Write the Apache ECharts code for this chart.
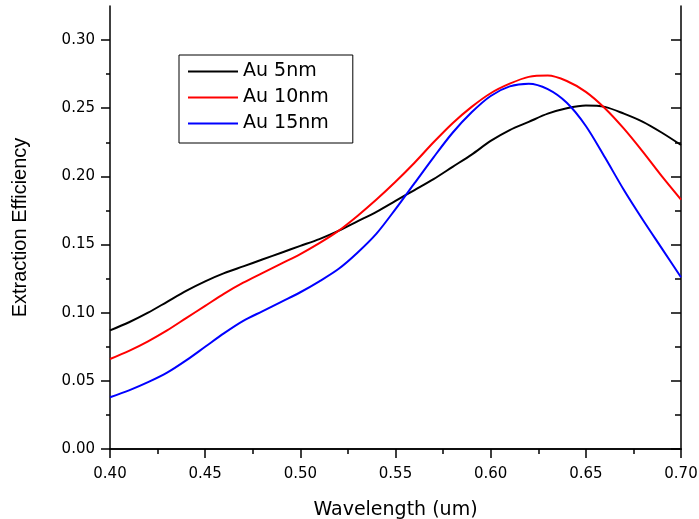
<!DOCTYPE html>
<html><head><meta charset="utf-8">
<script src="https://cdn.jsdelivr.net/npm/echarts@6/dist/echarts.min.js"></script>
<style>html,body{margin:0;padding:0;background:#fff}#c{width:699px;height:519px}</style>
</head><body><div id="c"></div>
<script>
const wavelengths = [0.40,0.41,0.42,0.43,0.44,0.45,0.46,0.47,0.48,0.49,0.50,0.51,0.52,0.53,0.54,0.55,0.56,0.57,0.58,0.59,0.60,0.61,0.62,0.63,0.64,0.65,0.66,0.67,0.68,0.69,0.70];
const au5  = [0.087,0.093,0.100,0.108,0.116,0.123,0.129,0.134,0.139,0.144,0.149,0.154,0.160,0.167,0.174,0.182,0.190,0.198,0.207,0.216,0.226,0.234,0.240,0.246,0.250,0.252,0.251,0.246,0.240,0.232,0.223];
const au10 = [0.066,0.072,0.079,0.087,0.096,0.105,0.114,0.122,0.129,0.136,0.143,0.151,0.160,0.171,0.183,0.196,0.210,0.225,0.239,0.251,0.261,0.268,0.273,0.274,0.270,0.262,0.250,0.235,0.218,0.200,0.183];
const au15 = [0.038,0.043,0.049,0.056,0.065,0.075,0.085,0.094,0.101,0.108,0.115,0.123,0.132,0.144,0.158,0.176,0.195,0.214,0.232,0.247,0.259,0.266,0.268,0.264,0.254,0.237,0.214,0.190,0.168,0.147,0.126];
const seriesNames = ['Au 5nm','Au 10nm','Au 15nm'];
const yTicks = [0,0.05,0.10,0.15,0.20,0.25,0.30];
const yMinorTicks = [0.025,0.075,0.125,0.175,0.225,0.275];
const xTitle = 'Wavelength (um)';
const yTitle = 'Extraction Efficiency';

const AX = {color:'#000', width:1.5};
const FONT = 'DejaVu Sans';
const X_MIN = 0.4, X_MAX = 0.7, Y_MIN = 0, Y_MAX = 0.325;

const chart = echarts.init(document.getElementById('c'), null, {renderer:'canvas'});
const colors = ['#000000','#ff0000','#0000ff'];
const vals = [au5, au10, au15];

chart.setOption({
  animation:false,
  backgroundColor:'#fff',
  grid:{left:110, right:18, top:6, bottom:70, containLabel:false, outerBoundsMode:'none'},
  legend:{
    data:seriesNames, orient:'vertical', left:179, top:55,
    icon:'rect', itemWidth:50, itemHeight:2, itemGap:7, itemTextGap:6,
    borderColor:'#000', borderWidth:1, padding:[7,24,10,9],
    textStyle:{fontFamily:FONT, fontSize:19, color:'#000', lineHeight:18}
  },
  xAxis:[
    {type:'value', position:'bottom', min:X_MIN, max:X_MAX, interval:0.05,
     name:xTitle, nameLocation:'middle', nameGap:52,
     nameTextStyle:{fontFamily:FONT, fontSize:19, color:'#000'},
     axisLine:{show:true, lineStyle:AX},
     axisTick:{show:true, length:7, lineStyle:AX},
     minorTick:{show:true, splitNumber:2, length:4, lineStyle:AX},
     axisLabel:{margin:18, fontFamily:FONT, fontSize:15, color:'#000', formatter:v=>v.toFixed(2)},
     splitLine:{show:false}},
    {type:'value', position:'top', min:X_MIN, max:X_MAX, interval:0.05,
     axisLine:{show:true, lineStyle:AX},
     axisTick:{show:true, inside:true, length:9, lineStyle:AX},
     minorTick:{show:true, splitNumber:2, length:5, lineStyle:AX},
     axisLabel:{show:false}, splitLine:{show:false}}
  ],
  yAxis:[
    {type:'value', position:'left', min:Y_MIN, max:Y_MAX,
     name:yTitle, nameLocation:'middle', nameGap:80, nameRotate:90,
     nameTextStyle:{fontFamily:'Liberation Sans', fontSize:20, color:'#000'},
     axisLine:{show:true, lineStyle:AX},
     axisTick:{show:true, length:9, lineStyle:AX, customValues:yTicks},
     axisLabel:{margin:15, fontFamily:FONT, fontSize:15, color:'#000', customValues:yTicks, formatter:v=>Number(v).toFixed(2)},
     splitLine:{show:false}},
    {type:'value', position:'left', min:Y_MIN, max:Y_MAX,
     axisLine:{show:false},
     axisTick:{show:true, length:4, lineStyle:AX, customValues:yMinorTicks},
     axisLabel:{show:false}, splitLine:{show:false}},
    {type:'value', position:'right', min:Y_MIN, max:Y_MAX,
     axisLine:{show:true, lineStyle:AX},
     axisTick:{show:true, inside:true, length:10, lineStyle:AX, customValues:yTicks},
     axisLabel:{show:false}, splitLine:{show:false}},
    {type:'value', position:'right', min:Y_MIN, max:Y_MAX,
     axisLine:{show:false},
     axisTick:{show:true, inside:true, length:6, lineStyle:AX, customValues:yMinorTicks},
     axisLabel:{show:false}, splitLine:{show:false}}
  ],
  series: seriesNames.map((n,k)=>({
    name:n, type:'line', xAxisIndex:0, yAxisIndex:0,
    symbol:'none', smooth:0.3,
    color:colors[k],
    lineStyle:{color:colors[k], width:2},
    data: wavelengths.map((x,i)=>[x, vals[k][i]])
  }))
});
</script>
</body></html>
